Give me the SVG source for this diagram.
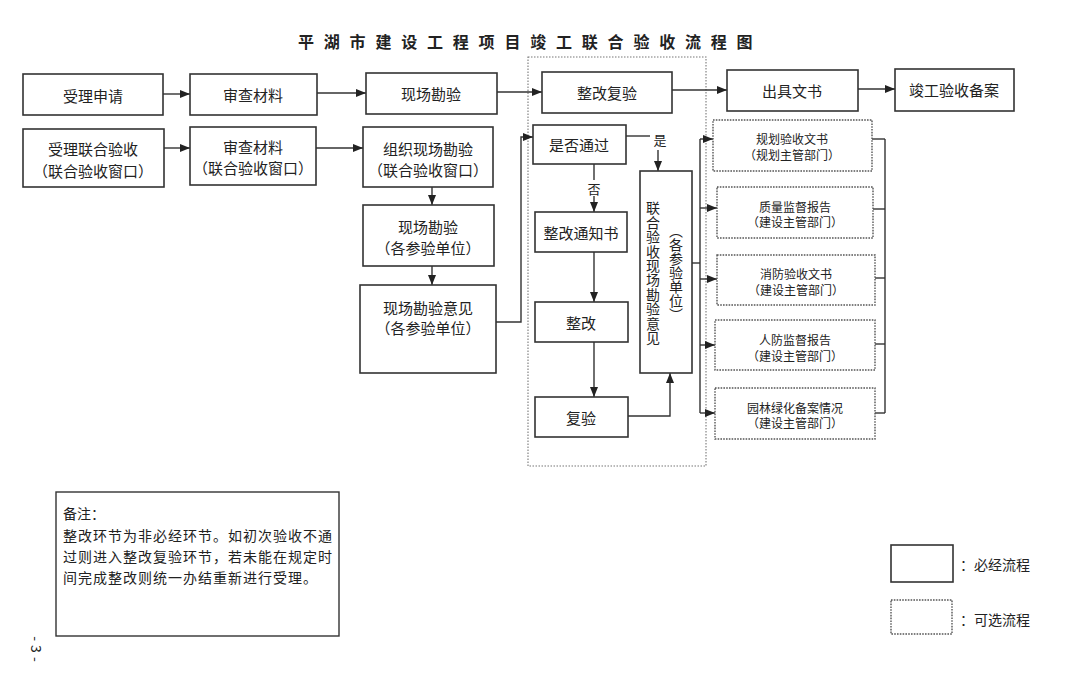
<svg xmlns="http://www.w3.org/2000/svg" width="1080" height="682" viewBox="0 0 1080 682">
<defs>
<marker id="arr" markerWidth="10" markerHeight="8" refX="10" refY="4" orient="auto" markerUnits="userSpaceOnUse">
<path d="M0,0 L10,4 L0,8 z" fill="#222"/>
</marker>
<style>
text{font-family:"Noto Sans CJK SC","Noto Sans",sans-serif;fill:#222;}
.t{font-size:15px;text-anchor:middle;dominant-baseline:central;}
.s{font-size:12px;text-anchor:middle;dominant-baseline:central;}
.box{fill:#fff;stroke:#333;stroke-width:1.6;}
.dbox{fill:#fff;stroke:#555;stroke-width:1.4;stroke-dasharray:1.6 1.2;}
.reg{fill:none;stroke:#777;stroke-width:1.1;stroke-dasharray:1.5 1.5;}
.c{fill:none;stroke:#333;stroke-width:1.4;}
.ca{fill:none;stroke:#333;stroke-width:1.4;marker-end:url(#arr);}
</style>
</defs>
<rect width="1080" height="682" fill="#fff"/>
<text x="298" y="41" style="font-size:16px;font-weight:bold;letter-spacing:9.8px;dominant-baseline:central;">平湖市建设工程项目竣工联合验收流程图</text>

<rect class="reg" x="528" y="57" width="178" height="409"/>

<g id="connectors">
<line class="ca" x1="163" y1="94" x2="190" y2="94"/>
<line class="ca" x1="317" y1="93" x2="366" y2="93"/>
<line class="ca" x1="497" y1="92" x2="542" y2="92"/>
<line class="ca" x1="672" y1="90" x2="727" y2="90"/>
<line class="ca" x1="858" y1="89" x2="895" y2="89"/>
<line class="ca" x1="164" y1="148" x2="190" y2="148"/>
<line class="ca" x1="316" y1="148" x2="363" y2="148"/>
<line class="ca" x1="432" y1="187" x2="432" y2="205"/>
<line class="ca" x1="432" y1="266" x2="432" y2="285"/>
<polyline class="ca" points="496,322 521,322 521,137 533,137"/>
<line class="c" x1="626" y1="136" x2="650" y2="136"/>
<line class="ca" x1="658" y1="150" x2="658" y2="171"/>
<line class="c" x1="594" y1="164" x2="594" y2="180"/>
<line class="ca" x1="594" y1="196" x2="594" y2="212"/>
<line class="ca" x1="594" y1="252" x2="594" y2="302"/>
<line class="ca" x1="594" y1="342" x2="594" y2="397"/>
<polyline class="ca" points="628,416 670,416 670,373"/>
<line class="c" x1="692" y1="263" x2="700" y2="263"/>
<line class="c" x1="700" y1="139" x2="700" y2="413"/>
<line class="ca" x1="700" y1="139" x2="713" y2="139"/>
<line class="ca" x1="700" y1="208" x2="717" y2="208"/>
<line class="ca" x1="700" y1="279" x2="717" y2="279"/>
<line class="ca" x1="700" y1="345" x2="715" y2="345"/>
<line class="ca" x1="700" y1="413" x2="715" y2="413"/>
<line class="c" x1="872" y1="139" x2="885" y2="139"/>
<line class="c" x1="873" y1="209" x2="885" y2="209"/>
<line class="c" x1="875" y1="278" x2="885" y2="278"/>
<line class="c" x1="875" y1="344" x2="885" y2="344"/>
<line class="c" x1="875" y1="413" x2="885" y2="413"/>
<line class="c" x1="885" y1="139" x2="885" y2="413"/>
<text x="660" y="139" style="font-size:13px;text-anchor:middle;dominant-baseline:central;">是</text>
<text x="594" y="188" style="font-size:13px;text-anchor:middle;dominant-baseline:central;">否</text>
</g>

<g id="n1"><rect class="box" x="23" y="74" width="140" height="41"/><text class="t" x="93" y="95">受理申请</text></g>
<g id="n2"><rect class="box" x="190" y="74" width="127" height="41"/><text class="t" x="253" y="94">审查材料</text></g>
<g id="n3"><rect class="box" x="366" y="73" width="131" height="41"/><text class="t" x="431" y="93">现场勘验</text></g>
<g id="n4"><rect class="box" x="542" y="72" width="130" height="41"/><text class="t" x="607" y="92">整改复验</text></g>
<g id="n5"><rect class="box" x="727" y="70" width="131" height="41"/><text class="t" x="792" y="90">出具文书</text></g>
<g id="n6"><rect class="box" x="895" y="69" width="119" height="42"/><text class="t" x="954" y="89">竣工验收备案</text></g>

<g id="n7"><rect class="box" x="23" y="129" width="141" height="58"/><text class="t" x="93" y="148">受理联合验收</text><text class="t" x="93" y="170">（联合验收窗口）</text></g>
<g id="n8"><rect class="box" x="190" y="127" width="126" height="58"/><text class="t" x="253" y="146">审查材料</text><text class="t" x="253" y="167">（联合验收窗口）</text></g>
<g id="n9"><rect class="box" x="363" y="127" width="130" height="60"/><text class="t" x="428" y="148">组织现场勘验</text><text class="t" x="428" y="169">（联合验收窗口）</text></g>
<g id="n10"><rect class="box" x="363" y="205" width="131" height="61"/><text class="t" x="428" y="226">现场勘验</text><text class="t" x="428" y="247">（各参验单位）</text></g>
<g id="n11"><rect class="box" x="360" y="285" width="136" height="88"/><text class="t" x="428" y="307">现场勘验意见</text><text class="t" x="428" y="327">（各参验单位）</text></g>

<g id="n12"><rect class="box" x="533" y="125" width="93" height="39"/><text class="t" x="579" y="144">是否通过</text></g>
<g id="n13"><rect class="box" x="535" y="212" width="92" height="40"/><text class="t" x="581" y="232">整改通知书</text></g>
<g id="n14"><rect class="box" x="535" y="302" width="93" height="40"/><text class="t" x="581" y="322">整改</text></g>
<g id="n15"><rect class="box" x="535" y="397" width="93" height="40"/><text class="t" x="581" y="417">复验</text></g>
<g id="n16"><rect class="box" x="640" y="171" width="52" height="202"/>
<text x="653" y="201" style="font-size:14px;writing-mode:vertical-rl;letter-spacing:0.4px;">联合验收现场勘验意见</text>
<text x="676" y="224" style="font-size:14px;writing-mode:vertical-rl;">（各参验单位）</text></g>

<g id="n17"><rect class="dbox" x="713" y="120" width="159" height="51"/><text class="s" x="792" y="138">规划验收文书</text><text class="s" x="792" y="154">（规划主管部门）</text></g>
<g id="n18"><rect class="dbox" x="717" y="187" width="156" height="51"/><text class="s" x="795" y="206">质量监督报告</text><text class="s" x="795" y="221">（建设主管部门）</text></g>
<g id="n19"><rect class="dbox" x="717" y="255" width="158" height="50"/><text class="s" x="796" y="273">消防验收文书</text><text class="s" x="796" y="289">（建设主管部门）</text></g>
<g id="n20"><rect class="dbox" x="715" y="320" width="160" height="50"/><text class="s" x="795" y="339">人防监督报告</text><text class="s" x="795" y="355">（建设主管部门）</text></g>
<g id="n21"><rect class="dbox" x="715" y="388" width="160" height="51"/><text class="s" x="795" y="407">园林绿化备案情况</text><text class="s" x="795" y="422">（建设主管部门）</text></g>

<g id="note"><rect x="56" y="492" width="283" height="144" fill="#fff" stroke="#333" stroke-width="1.4"/>
<text x="63" y="513" style="font-size:14px;dominant-baseline:central;">备注：</text>
<text x="63" y="535" style="font-size:14px;letter-spacing:1px;dominant-baseline:central;">整改环节为非必经环节。如初次验收不通</text>
<text x="63" y="556" style="font-size:14px;letter-spacing:1px;dominant-baseline:central;">过则进入整改复验环节，若未能在规定时</text>
<text x="63" y="577" style="font-size:14px;letter-spacing:1px;dominant-baseline:central;">间完成整改则统一办结重新进行受理。</text></g>

<g id="legend1"><rect class="box" x="891" y="545" width="62" height="37"/><text x="960" y="564" style="font-size:14px;dominant-baseline:central;">：必经流程</text></g>
<g id="legend2"><rect class="dbox" x="891" y="600" width="61" height="34"/><text x="960" y="619" style="font-size:14px;dominant-baseline:central;">：可选流程</text></g>

<text x="37" y="651" transform="rotate(90 37 651)" style="font-size:14px;letter-spacing:4px;text-anchor:middle;dominant-baseline:central;">-3-</text>
</svg>
